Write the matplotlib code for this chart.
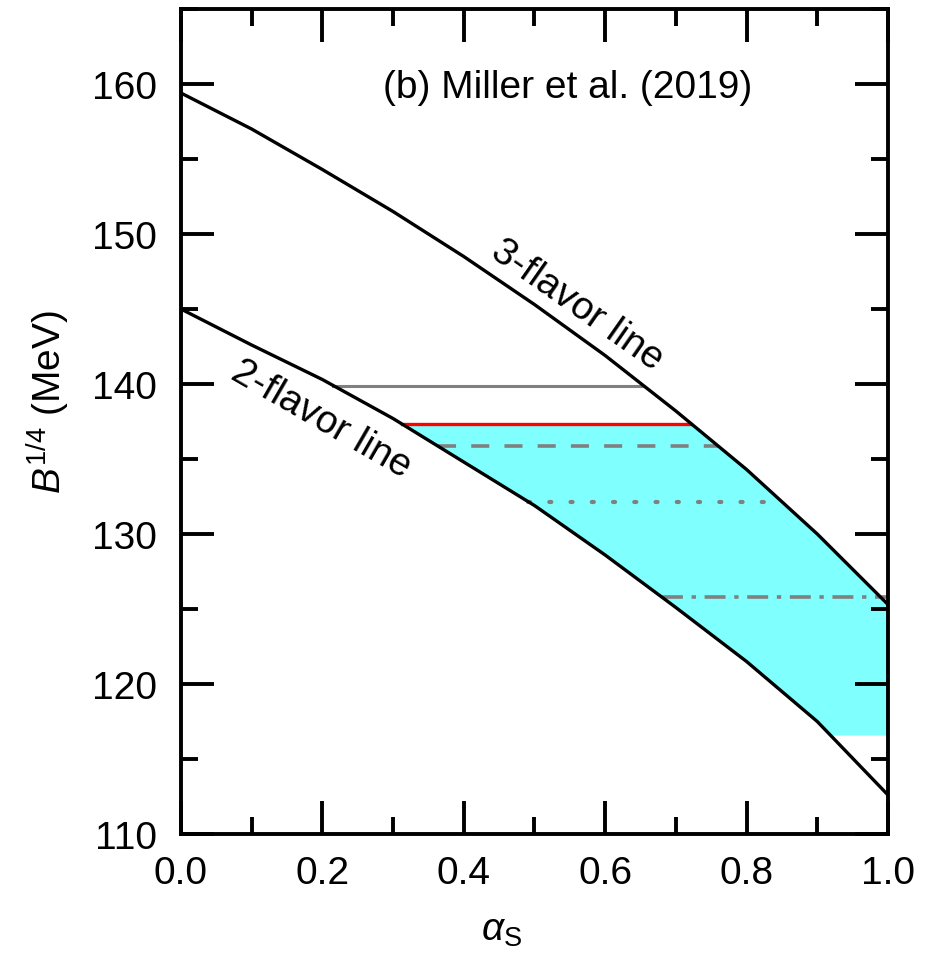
import numpy as np
import matplotlib
matplotlib.use("Agg")
import matplotlib.pyplot as plt
from matplotlib.ticker import MultipleLocator

plt.rcParams["font.family"] = ["Liberation Sans", "DejaVu Sans"]
plt.rcParams["mathtext.fontset"] = "custom"
plt.rcParams["mathtext.rm"] = "Liberation Sans"
plt.rcParams["mathtext.it"] = "Liberation Sans:italic"

# coupling constant grid and the two stability boundaries (B^1/4 in MeV)
alpha_s = [0.0, 0.1, 0.2, 0.3, 0.4, 0.5, 0.6, 0.7, 0.8, 0.9, 1.0]
b_3flavor = [159.4, 157.0, 154.3, 151.5, 148.5, 145.3, 141.9, 138.2, 134.3, 130.0, 125.3]
b_2flavor = [145.0, 142.6, 140.3, 137.7, 134.8, 131.9, 128.6, 125.1, 121.5, 117.5, 112.6]

# constant-B^1/4 cuts between the two boundaries
level_gray = 139.9
level_red = 137.35
level_dash = 135.85
level_dot = 132.15
level_dashdot = 125.8
fill_floor = 116.6

x = np.array(alpha_s)
y3 = np.array(b_3flavor)
y2 = np.array(b_2flavor)


def cross(level, y):
    # alpha_s where a decreasing boundary reaches the given level
    return float(np.interp(level, y[::-1], x[::-1]))


def cut(level, right=None):
    x0 = cross(level, y2)
    x1 = cross(level, y3) if right is None else right
    return [x0, x1], [level, level]


fig = plt.figure(figsize=(9.28, 9.54), dpi=100)
ax = fig.add_axes([0.195, 0.1247, 0.7619, 0.8648])

# allowed window: below the red cut, between the boundaries, above the floor
xs = np.linspace(cross(level_red, y2), 1.0, 600)
upper = np.minimum(np.interp(xs, x, y3), level_red)
lower = np.maximum(np.interp(xs, x, y2), fill_floor)
ax.fill_between(xs, lower, upper, where=upper > lower, color="#80FFFF",
                linewidth=0, zorder=1)

gray = "#808080"
lw = 2.6
ax.plot(*cut(level_gray), color=gray, lw=2.2, zorder=2)
ax.plot(*cut(level_red), color="red", lw=2.4, zorder=2)
ax.plot(*cut(level_dash), color=gray, lw=lw, ls=(0, (5.0, 4.2)), zorder=2)
ax.plot(*cut(level_dot), color=gray, lw=3.0, ls=(0, (0.5, 4.6)),
        dash_capstyle="round", zorder=2)
ax.plot(*cut(level_dashdot, right=1.0), color=gray, lw=lw,
        ls=(0, (5.8, 2.4, 1.2, 2.4)), zorder=2)

ax.plot(x, y3, color="black", lw=2.4, zorder=3)
ax.plot(x, y2, color="black", lw=2.4, zorder=3)

ax.text(0.56, 145.3, "3-flavor line", fontsize=28, rotation=-35,
        rotation_mode="anchor", ha="center", va="center")
ax.text(0.198, 137.7, "2-flavor line", fontsize=28, rotation=-30,
        rotation_mode="anchor", ha="center", va="center")
ax.text(0.547, 159.15, "(b) Miller et al. (2019)", fontsize=28,
        ha="center", va="baseline")

ax.set_xlim(0.0, 1.0)
ax.set_ylim(110, 165)
ax.xaxis.set_major_locator(MultipleLocator(0.2))
ax.xaxis.set_minor_locator(MultipleLocator(0.1))
ax.yaxis.set_major_locator(MultipleLocator(10))
ax.yaxis.set_minor_locator(MultipleLocator(5))
ax.set_xticks([0.0, 0.2, 0.4, 0.6, 0.8, 1.0])
ax.set_xticklabels(["0.0", "0.2", "0.4", "0.6", "0.8", "1.0"])
ax.set_yticks([110, 120, 130, 140, 150, 160])

ax.tick_params(which="both", direction="in", top=True, right=True,
               width=2.8, labelsize=28)
ax.tick_params(which="major", length=24)
ax.tick_params(which="minor", length=12)
ax.tick_params(axis="y", which="major", pad=17)
ax.tick_params(axis="x", which="major", pad=15)
for s in ax.spines.values():
    s.set_linewidth(2.8)

ax.set_xlabel(r"$\alpha_{\rm S}$", fontsize=28)
ax.xaxis.set_label_coords(0.454, -0.095)
ax.set_ylabel(r"$B^{\rm 1/4}$ (MeV)", fontsize=28)
ax.yaxis.set_label_coords(-0.154, 0.525)

fig.savefig("out.png", dpi=100)
plt.close(fig)
